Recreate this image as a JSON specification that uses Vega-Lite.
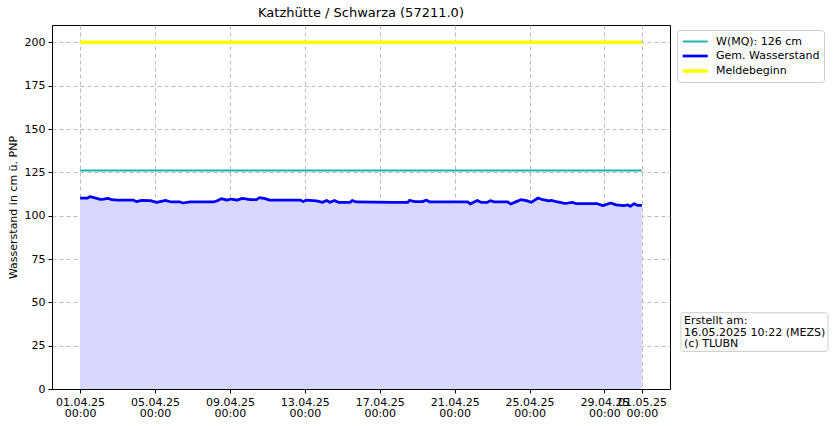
{
  "$schema": "https://vega.github.io/schema/vega-lite/v6.json",
  "width": 618,
  "height": 364,
  "autosize": {"type": "none"},
  "padding": {"left": 52, "top": 25, "right": 164, "bottom": 37},
  "background": "white",
  "title": {"text": "Katzhütte / Schwarza (57211.0)", "fontSize": 13, "fontWeight": "normal", "font": "DejaVu Sans", "color": "black", "offset": 5},
  "config": {
    "font": "DejaVu Sans",
    "view": {"stroke": "black", "strokeWidth": 1},
    "axis": {
      "domainColor": "black", "tickColor": "black", "labelColor": "black", "titleColor": "black",
      "labelFont": "DejaVu Sans", "labelFontSize": 11, "tickSize": 4,
      "gridColor": "#bdbdbd", "gridDash": [4, 3], "gridWidth": 1,
      "titleFont": "DejaVu Sans", "titleFontWeight": "normal", "titleFontSize": 11
    }
  },
  "datasets": {
    "levels": [
      {"t": "2025-04-01T00:00:00Z", "v": 110.1},
      {"t": "2025-04-01T09:00:00Z", "v": 110.1},
      {"t": "2025-04-01T13:00:00Z", "v": 111.0},
      {"t": "2025-04-01T19:00:00Z", "v": 110.3},
      {"t": "2025-04-02T02:00:00Z", "v": 109.4},
      {"t": "2025-04-02T06:00:00Z", "v": 109.6},
      {"t": "2025-04-02T12:00:00Z", "v": 110.0},
      {"t": "2025-04-02T17:00:00Z", "v": 109.2},
      {"t": "2025-04-03T00:00:00Z", "v": 109.0},
      {"t": "2025-04-03T20:00:00Z", "v": 109.0},
      {"t": "2025-04-04T00:00:00Z", "v": 108.1},
      {"t": "2025-04-04T07:00:00Z", "v": 108.8},
      {"t": "2025-04-04T18:00:00Z", "v": 108.7},
      {"t": "2025-04-05T02:00:00Z", "v": 107.7},
      {"t": "2025-04-05T11:00:00Z", "v": 108.5},
      {"t": "2025-04-05T13:00:00Z", "v": 108.8},
      {"t": "2025-04-05T21:00:00Z", "v": 107.9},
      {"t": "2025-04-06T08:00:00Z", "v": 107.9},
      {"t": "2025-04-06T12:00:00Z", "v": 107.3},
      {"t": "2025-04-06T21:00:00Z", "v": 107.9},
      {"t": "2025-04-08T03:00:00Z", "v": 107.9},
      {"t": "2025-04-08T07:00:00Z", "v": 108.5},
      {"t": "2025-04-08T13:00:00Z", "v": 109.8},
      {"t": "2025-04-08T20:00:00Z", "v": 109.0},
      {"t": "2025-04-09T02:00:00Z", "v": 109.6},
      {"t": "2025-04-09T09:00:00Z", "v": 109.0},
      {"t": "2025-04-09T16:00:00Z", "v": 110.0},
      {"t": "2025-04-10T02:00:00Z", "v": 109.2},
      {"t": "2025-04-10T10:00:00Z", "v": 109.2},
      {"t": "2025-04-10T14:00:00Z", "v": 110.4},
      {"t": "2025-04-10T21:00:00Z", "v": 109.8},
      {"t": "2025-04-11T03:00:00Z", "v": 109.0},
      {"t": "2025-04-12T18:00:00Z", "v": 109.0},
      {"t": "2025-04-12T22:00:00Z", "v": 108.1},
      {"t": "2025-04-13T02:00:00Z", "v": 109.0},
      {"t": "2025-04-13T15:00:00Z", "v": 108.5},
      {"t": "2025-04-13T23:00:00Z", "v": 107.7},
      {"t": "2025-04-14T04:00:00Z", "v": 108.8},
      {"t": "2025-04-14T08:00:00Z", "v": 107.7},
      {"t": "2025-04-14T14:00:00Z", "v": 108.8},
      {"t": "2025-04-14T19:00:00Z", "v": 107.7},
      {"t": "2025-04-15T10:00:00Z", "v": 107.7},
      {"t": "2025-04-15T13:00:00Z", "v": 108.8},
      {"t": "2025-04-15T18:00:00Z", "v": 107.9},
      {"t": "2025-04-17T17:00:00Z", "v": 107.7},
      {"t": "2025-04-18T12:00:00Z", "v": 107.7},
      {"t": "2025-04-18T14:00:00Z", "v": 108.8},
      {"t": "2025-04-18T21:00:00Z", "v": 108.1},
      {"t": "2025-04-19T07:00:00Z", "v": 108.1},
      {"t": "2025-04-19T12:00:00Z", "v": 109.0},
      {"t": "2025-04-19T16:00:00Z", "v": 107.9},
      {"t": "2025-04-21T17:00:00Z", "v": 107.9},
      {"t": "2025-04-21T20:00:00Z", "v": 106.7},
      {"t": "2025-04-22T01:00:00Z", "v": 107.9},
      {"t": "2025-04-22T05:00:00Z", "v": 108.8},
      {"t": "2025-04-22T10:00:00Z", "v": 107.7},
      {"t": "2025-04-22T18:00:00Z", "v": 107.7},
      {"t": "2025-04-22T22:00:00Z", "v": 108.7},
      {"t": "2025-04-23T03:00:00Z", "v": 107.9},
      {"t": "2025-04-23T20:00:00Z", "v": 107.9},
      {"t": "2025-04-24T00:00:00Z", "v": 106.7},
      {"t": "2025-04-24T07:00:00Z", "v": 108.1},
      {"t": "2025-04-24T13:00:00Z", "v": 109.2},
      {"t": "2025-04-24T20:00:00Z", "v": 108.7},
      {"t": "2025-04-25T02:00:00Z", "v": 107.7},
      {"t": "2025-04-25T11:00:00Z", "v": 110.2},
      {"t": "2025-04-25T17:00:00Z", "v": 109.2},
      {"t": "2025-04-26T01:00:00Z", "v": 108.5},
      {"t": "2025-04-26T04:00:00Z", "v": 108.8},
      {"t": "2025-04-26T12:00:00Z", "v": 107.9},
      {"t": "2025-04-26T21:00:00Z", "v": 107.1},
      {"t": "2025-04-27T01:00:00Z", "v": 107.3},
      {"t": "2025-04-27T07:00:00Z", "v": 107.7},
      {"t": "2025-04-27T12:00:00Z", "v": 106.9},
      {"t": "2025-04-28T15:00:00Z", "v": 106.9},
      {"t": "2025-04-28T22:00:00Z", "v": 105.8},
      {"t": "2025-04-29T08:00:00Z", "v": 107.3},
      {"t": "2025-04-29T15:00:00Z", "v": 106.2},
      {"t": "2025-04-30T01:00:00Z", "v": 105.8},
      {"t": "2025-04-30T06:00:00Z", "v": 106.2},
      {"t": "2025-04-30T09:00:00Z", "v": 105.4},
      {"t": "2025-04-30T14:00:00Z", "v": 106.9},
      {"t": "2025-04-30T18:00:00Z", "v": 106.0},
      {"t": "2025-05-01T00:00:00Z", "v": 106.0}
    ],
    "refs": [
      {"t": "2025-04-01T00:00:00Z", "v": 126, "s": "W(MQ): 126 cm"},
      {"t": "2025-05-01T00:00:00Z", "v": 126, "s": "W(MQ): 126 cm"},
      {"t": "2025-04-01T00:00:00Z", "v": 200, "s": "Meldebeginn"},
      {"t": "2025-05-01T00:00:00Z", "v": 200, "s": "Meldebeginn"}
    ],
    "note": [
      {"text": "Erstellt am:\n16.05.2025 10:22 (MEZS)\n(c) TLUBN"}
    ]
  },
  "layer": [
    {
      "data": {"name": "levels"},
      "mark": {"type": "area", "color": "#d8d8ff", "opacity": 1},
      "encoding": {
        "x": {
          "field": "t", "type": "temporal",
          "scale": {"type": "utc", "domain": ["2025-03-30T12:00:00Z", "2025-05-02T12:00:00Z"], "nice": false},
          "axis": {
            "title": null, "grid": true, "labelOverlap": false, "labelFlush": false, "labelPadding": 3,
            "values": [
              {"year": 2025, "month": 4, "date": 1, "utc": true},
              {"year": 2025, "month": 4, "date": 5, "utc": true},
              {"year": 2025, "month": 4, "date": 9, "utc": true},
              {"year": 2025, "month": 4, "date": 13, "utc": true},
              {"year": 2025, "month": 4, "date": 17, "utc": true},
              {"year": 2025, "month": 4, "date": 21, "utc": true},
              {"year": 2025, "month": 4, "date": 25, "utc": true},
              {"year": 2025, "month": 4, "date": 29, "utc": true},
              {"year": 2025, "month": 5, "date": 1, "utc": true}
            ],
            "labelExpr": "[utcFormat(datum.value, '%d.%m.%y'), utcFormat(datum.value, '%H:%M')]",
            "labelLineHeight": 11
          }
        },
        "y": {
          "field": "v", "type": "quantitative",
          "scale": {"domain": [0, 210], "nice": false, "zero": true},
          "axis": {
            "title": "Wasserstand in cm ü. PNP", "grid": true, "values": [0, 25, 50, 75, 100, 125, 150, 175, 200],
            "labelPadding": 3, "titlePadding": 6
          }
        }
      }
    },
    {
      "data": {"name": "refs"},
      "mark": {"type": "line", "strokeCap": "butt"},
      "encoding": {
        "x": {"field": "t", "type": "temporal"},
        "y": {"field": "v", "type": "quantitative"},
        "color": {"field": "s", "type": "nominal",
          "scale": {"domain": ["W(MQ): 126 cm", "Gem. Wasserstand", "Meldebeginn"], "range": ["#20b2aa", "#0000ff", "#ffff00"]},
          "legend": {"title": null, "orient": "none", "legendX": 625, "legendY": 5, "symbolType": "M-1,0H3", "symbolSize": 156,
            "labelFontSize": 11, "labelFont": "DejaVu Sans", "labelColor": "black",
            "strokeColor": "#cccccc", "fillColor": "white", "padding": 4, "cornerRadius": 3, "rowPadding": 1,
            "labelOffset": 19}
        },
        "strokeWidth": {"field": "s", "type": "nominal",
          "scale": {"domain": ["W(MQ): 126 cm", "Gem. Wasserstand", "Meldebeginn"], "range": [2, 3.5, 2]},
          "legend": null}
      }
    },
    {
      "data": {"name": "levels"},
      "mark": {"type": "line", "strokeJoin": "round", "strokeCap": "butt"},
      "encoding": {
        "x": {"field": "t", "type": "temporal"},
        "y": {"field": "v", "type": "quantitative"},
        "color": {"datum": "Gem. Wasserstand", "type": "nominal"},
        "strokeWidth": {"datum": "Gem. Wasserstand", "type": "nominal", "legend": null}
      }
    },
    {
      "data": {"name": "note"},
      "mark": {"type": "rect", "fill": "white", "stroke": "#cccccc", "strokeWidth": 1, "cornerRadius": 3},
      "encoding": {
        "x": {"datum": {"year": 2025, "month": 5, "date": 3, "hours": 2, "utc": true}, "type": "temporal"},
        "x2": {"datum": {"year": 2025, "month": 5, "date": 10, "hours": 22, "minutes": 30, "utc": true}},
        "y": {"datum": 44.0, "type": "quantitative"},
        "y2": {"datum": 21.7}
      }
    },
    {
      "data": {"name": "note"},
      "mark": {"type": "text", "align": "left", "baseline": "top", "lineBreak": "\n", "fontSize": 11, "font": "DejaVu Sans", "color": "black", "lineHeight": 11.5},
      "encoding": {
        "x": {"datum": {"year": 2025, "month": 5, "date": 3, "hours": 6, "utc": true}, "type": "temporal"},
        "y": {"datum": 42.6, "type": "quantitative"},
        "text": {"field": "text"}
      }
    }
  ]
}
